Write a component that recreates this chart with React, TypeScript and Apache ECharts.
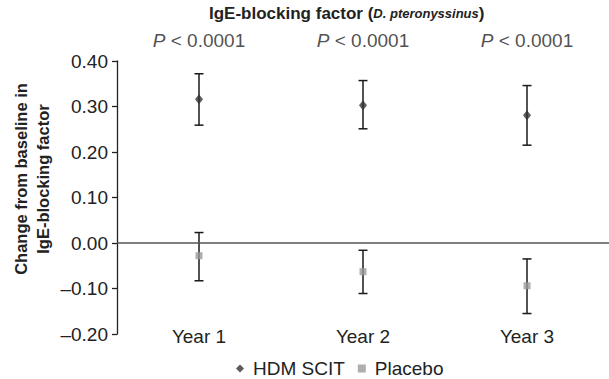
import React, { useEffect, useRef } from "react";
import * as echarts from "echarts";

const categories = ["Year 1", "Year 2", "Year 3"];
const hdmMean = [0.316, 0.303, 0.281];
const hdmLow = [0.259, 0.251, 0.215];
const hdmHigh = [0.372, 0.357, 0.346];
const placeboMean = [-0.028, -0.063, -0.094];
const placeboLow = [-0.083, -0.111, -0.155];
const placeboHigh = [0.023, -0.016, -0.035];
const pLabels = ["P < 0.0001", "P < 0.0001", "P < 0.0001"];
const yTicks = { min: -0.2, max: 0.4, interval: 0.1 };

const FONT = "'Liberation Sans', Arial, Helvetica, sans-serif";
const TEXT = "#222";

export default function App() {
  const ref = useRef<HTMLDivElement>(null);
  useEffect(() => {
    if (!ref.current) return;
    const chart = echarts.init(ref.current, null, { renderer: "svg" });

    const errRender = (params: any, api: any) => {
      const x = api.value(0);
      const lo = api.coord([x, api.value(1)]);
      const hi = api.coord([x, api.value(2)]);
      const half = 4.5;
      const style = { stroke: "#1a1a1a", lineWidth: 1.5 };
      return {
        type: "group",
        children: [
          { type: "line", shape: { x1: lo[0], y1: lo[1], x2: hi[0], y2: hi[1] }, style },
          { type: "line", shape: { x1: lo[0] - half, y1: lo[1], x2: lo[0] + half, y2: lo[1] }, style },
          { type: "line", shape: { x1: hi[0] - half, y1: hi[1], x2: hi[0] + half, y2: hi[1] }, style },
        ],
      };
    };

    chart.setOption({
      animation: false,
      textStyle: { fontFamily: FONT, color: TEXT },
      grid: { left: 117, right: -3, top: 61, bottom: 45, containLabel: false },
      legend: {
        data: ["HDM SCIT", "Placebo"],
        left: 236,
        top: 359,
        padding: 0,
        itemWidth: 8,
        itemHeight: 8,
        itemGap: 13,
        textStyle: { fontFamily: FONT, fontSize: 19, lineHeight: 19, color: TEXT, padding: [0, 0, 0, 4] },
      },
      xAxis: {
        type: "category",
        data: categories,
        boundaryGap: true,
        axisLine: { show: false },
        axisTick: { show: false },
        splitLine: { show: false },
        axisLabel: { fontFamily: FONT, fontSize: 19, lineHeight: 19, color: TEXT, margin: -7 },
      },
      yAxis: {
        type: "value",
        min: yTicks.min,
        max: yTicks.max,
        interval: yTicks.interval,
        axisLine: { show: true, lineStyle: { color: "#222", width: 1.3 } },
        axisTick: { show: true, length: 5, lineStyle: { color: "#222", width: 1.3 } },
        splitLine: { show: false },
        axisLabel: {
          fontFamily: FONT,
          fontSize: 19,
          color: TEXT,
          margin: 9,
          formatter: (v: number) => (v < 0 ? "\u2013" + Math.abs(v).toFixed(2) : v.toFixed(2)),
        },
      },
      graphic: [
        {
          type: "text",
          left: 209,
          top: 5,
          style: {
            text: "{b|IgE-blocking factor (}{i|D. pteronyssinus}{b|)}",
            rich: {
              b: { fontFamily: FONT, fontSize: 17, fontWeight: "bold", fill: TEXT },
              i: { fontFamily: FONT, fontSize: 13, fontWeight: "bold", fontStyle: "italic", fill: TEXT },
            },
          },
        },
        {
          type: "text",
          x: 32,
          y: 179,
          rotation: Math.PI / 2,
          style: {
            text: "Change from baseline in\nIgE-blocking factor",
            fontFamily: FONT,
            fontSize: 16.5,
            fontWeight: "bold",
            fill: TEXT,
            align: "center",
            verticalAlign: "middle",
            lineHeight: 22,
          },
        },
      ],
      series: [
        {
          name: "HDM SCIT err",
          type: "custom",
          renderItem: errRender,
          data: categories.map((_, i) => [i, hdmLow[i], hdmHigh[i]]),
          z: 2,
          silent: true,
        },
        {
          name: "Placebo err",
          type: "custom",
          renderItem: errRender,
          data: categories.map((_, i) => [i, placeboLow[i], placeboHigh[i]]),
          z: 2,
          silent: true,
        },
        {
          name: "HDM SCIT",
          type: "scatter",
          symbol: "diamond",
          symbolSize: [8, 10],
          itemStyle: { color: "#333" },
          data: hdmMean,
          z: 5,
          markLine: {
            silent: true,
            symbol: "none",
            label: { show: false },
            lineStyle: { color: "#555", width: 1.5, type: "solid" },
            data: [{ yAxis: 0 }],
          },
        },
        {
          name: "Placebo",
          type: "scatter",
          symbol: "rect",
          symbolSize: 7,
          itemStyle: { color: "#9a9a9a" },
          data: placeboMean,
          z: 5,
        },
        {
          name: "P values",
          type: "scatter",
          symbolSize: 0,
          silent: true,
          data: categories.map(() => yTicks.max),
          label: {
            show: true,
            position: "top",
            distance: 11,
            formatter: (p: any) => {
              const t = pLabels[p.dataIndex];
              return "{i|P}{n|" + t.slice(1) + "}";
            },
            rich: {
              i: { fontFamily: FONT, fontSize: 19, fontStyle: "italic", color: TEXT },
              n: { fontFamily: FONT, fontSize: 19, color: TEXT },
            },
          },
        },
      ],
    });
    return () => chart.dispose();
  }, []);
  return <div ref={ref} style={{ width: 609, height: 379, position: "absolute", left: 0, top: 0 }} />;
}
